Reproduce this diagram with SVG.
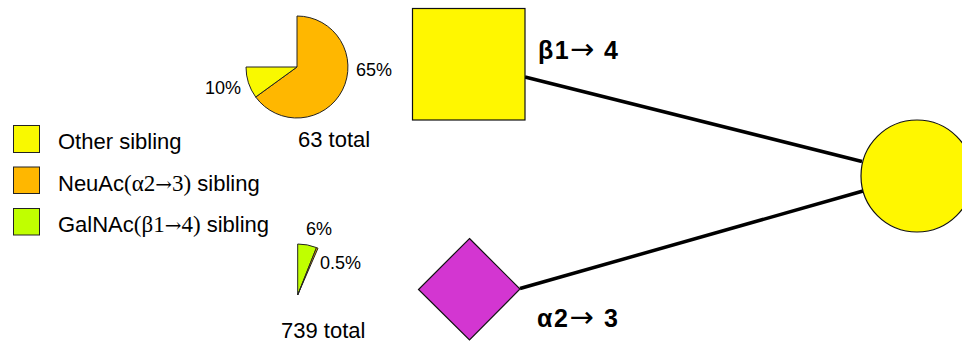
<svg xmlns="http://www.w3.org/2000/svg" width="962" height="343" viewBox="0 0 962 343">
<style>
text{font-family:"Liberation Sans",Arial,sans-serif;fill:#000}
.pct{font-size:18px}
.tot{font-size:22px}
.leg{font-size:22px}
.ser{font-family:"Liberation Serif","Times New Roman",serif;font-size:23px}
.arr{font-family:"DejaVu Sans",sans-serif;font-weight:normal;font-size:29px}
.sarr{font-family:"DejaVu Serif",serif;font-size:20px}
.lnk{font-size:25px;font-weight:bold}
.edge{stroke:#000;stroke-width:3.5;fill:none}
.sh{stroke:#111;stroke-width:1.2}
.ps{stroke:#222;stroke-width:1}
</style>
<rect width="962" height="343" fill="#fff"/>
<g id="connectors">
<line class="edge" x1="525" y1="77" x2="862" y2="161.5"/>
<line class="edge" x1="520" y1="288.5" x2="863" y2="191"/>
</g>
<g id="node-circle"><circle class="sh" cx="917" cy="176" r="56" fill="#fff700"/></g>
<g id="node-square"><rect class="sh" x="412.5" y="8.5" width="112.5" height="111.5" fill="#fff700"/></g>
<g id="node-diamond"><polygon class="sh" points="469.5,238.5 520,289 469.5,340 418.5,289.5" fill="#d336d1"/></g>
<g id="label-b14"><text class="lnk" x="538" y="59" textLength="80" lengthAdjust="spacing">β1<tspan class="arr">→</tspan> 4</text></g>
<g id="label-a23"><text class="lnk" x="537" y="327" textLength="81" lengthAdjust="spacing">α2<tspan class="arr">→</tspan> 3</text></g>
<g id="pie-63">
<path class="ps" d="M297,67 L297,16 A51,51 0 1 1 255.7,97 Z" fill="#ffb700"/>
<path class="ps" d="M297,67 L255.7,97 A51,51 0 0 1 246,67 Z" fill="#f9f900"/>
<text class="pct" x="356" y="76">65%</text>
<text class="pct" x="205" y="94">10%</text>
<text class="tot" x="298" y="147">63 total</text>
</g>
<g id="pie-739">
<path class="ps" d="M297.7,295 L297.7,244 A51,51 0 0 1 316.5,247.6 Z" fill="#c0ff00"/>
<path class="ps" d="M297.7,295 L316.5,247.6 A51,51 0 0 1 318,248.2 Z" fill="#ffb700"/>
<text class="pct" x="306" y="235">6%</text>
<text class="pct" x="320" y="269">0.5%</text>
<text class="tot" x="281" y="338">739 total</text>
</g>
<g id="legend">
<rect class="ps" x="13.5" y="125.5" width="26" height="27" fill="#f9f900"/>
<rect class="ps" x="13.5" y="167" width="26" height="26.5" fill="#ffb700"/>
<rect class="ps" x="13.5" y="208.5" width="26" height="26.5" fill="#c0ff00"/>
<text class="leg" x="58" y="149">Other sibling</text>
<text class="leg" x="58" y="190.5">NeuAc<tspan class="ser">(α2<tspan class="sarr">→</tspan>3)</tspan> sibling</text>
<text class="leg" x="58" y="231.5">GalNAc<tspan class="ser">(β1<tspan class="sarr">→</tspan>4)</tspan> sibling</text>
</g>
</svg>
